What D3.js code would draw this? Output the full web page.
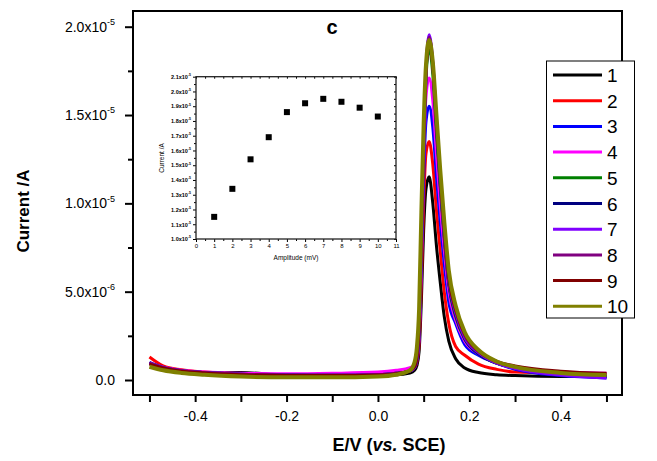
<!DOCTYPE html>
<html>
<head>
<meta charset="utf-8">
<script src="https://cdn.jsdelivr.net/npm/d3@7"></script>
<style>
body { margin: 0; background: #fff; }
svg { font-family: "Liberation Sans", Arial, sans-serif; }
</style>
</head>
<body>
<svg id="chart" width="657" height="461"></svg>
<script>
// potential (V vs SCE), shared by all ten scans
const potential = [-0.5, -0.47, -0.43, -0.38, -0.3, -0.2, -0.1, 0.0, 0.04, 0.07,
    0.08, 0.085, 0.09, 0.095, 0.1, 0.105, 0.112, 0.12, 0.128, 0.136, 0.145, 0.155,
    0.17, 0.19, 0.22, 0.26, 0.3, 0.4, 0.5];

// currents in 1e-6 A
const curve1 = [0.95, 0.7, 0.5, 0.4, 0.42, 0.3, 0.3, 0.3, 0.3, 0.4,
    0.55, 0.8, 1.6, 4.5, 8.5, 10.8, 11.5, 10.0, 7.6, 5.6, 3.6, 2.2,
    1.2, 0.68, 0.42, 0.3, 0.25, 0.2, 0.2];
const curve2 = [1.3, 0.8, 0.58, 0.45, 0.34, 0.3, 0.3, 0.32, 0.4, 0.5,
    0.7, 1.0, 2.0, 5.5, 10.0, 12.8, 13.5, 12.2, 9.6, 7.4, 5.0, 3.2,
    1.9, 1.4, 0.9, 0.6, 0.45, 0.38, 0.35];
const curve3 = [1.0, 0.72, 0.52, 0.42, 0.33, 0.28, 0.27, 0.3, 0.38, 0.5,
    0.7, 1.1, 2.4, 6.5, 11.5, 14.6, 15.5, 14.3, 11.5, 9.0, 6.6, 4.4,
    3.2, 2.0, 1.4, 0.95, 0.6, 0.25, 0.12];
const curve4 = [0.95, 0.72, 0.55, 0.45, 0.38, 0.35, 0.38, 0.45, 0.55, 0.7,
    0.8, 1.2, 2.6, 7.0, 12.5, 16.0, 17.1, 15.8, 12.8, 10.0, 7.4, 5.0,
    3.4, 2.2, 1.5, 1.0, 0.7, 0.45, 0.38];
const curve5 = [0.95, 0.7, 0.52, 0.42, 0.33, 0.28, 0.27, 0.3, 0.38, 0.5,
    0.7, 1.2, 2.8, 7.5, 13.0, 17.0, 18.8, 17.3, 14.0, 11.0, 8.0, 5.4,
    3.6, 2.3, 1.5, 0.95, 0.68, 0.35, 0.2];
const curve6 = [0.95, 0.7, 0.52, 0.42, 0.33, 0.28, 0.27, 0.3, 0.38, 0.5,
    0.7, 1.2, 2.8, 7.5, 13.0, 17.2, 19.3, 17.8, 14.4, 11.2, 8.2, 5.5,
    3.7, 2.35, 1.5, 0.95, 0.65, 0.3, 0.15];
const curve7 = [0.95, 0.7, 0.52, 0.42, 0.33, 0.28, 0.27, 0.3, 0.38, 0.5,
    0.7, 1.2, 2.8, 7.5, 13.0, 17.3, 19.55, 18.0, 14.6, 11.4, 8.3, 5.6,
    3.8, 2.4, 1.55, 0.95, 0.65, 0.28, 0.12];
const curve8 = [0.95, 0.7, 0.52, 0.42, 0.33, 0.28, 0.27, 0.3, 0.38, 0.52,
    0.75, 1.3, 3.0, 8.0, 13.5, 17.4, 19.4, 17.9, 14.6, 11.5, 8.4, 5.7,
    3.9, 2.5, 1.6, 1.0, 0.75, 0.45, 0.36];
const curve9 = [0.9, 0.68, 0.5, 0.4, 0.3, 0.25, 0.25, 0.28, 0.36, 0.52,
    0.75, 1.3, 3.0, 8.2, 13.8, 17.4, 19.1, 17.8, 14.6, 11.6, 8.5, 5.8,
    4.0, 2.6, 1.65, 1.05, 0.8, 0.5, 0.38];
const curve10 = [0.75, 0.55, 0.4, 0.3, 0.2, 0.15, 0.15, 0.2, 0.3, 0.55,
    1.0, 1.8, 4.0, 9.5, 14.5, 17.8, 19.25, 18.0, 15.0, 12.0, 9.0, 6.2,
    4.2, 2.7, 1.7, 1.05, 0.74, 0.4, 0.28];

const seriesNames = ["1", "2", "3", "4", "5", "6", "7", "8", "9", "10"];
const seriesColors = ["#000000", "#ff0000", "#0000ff", "#ff00ff", "#008000",
    "#000080", "#8000ff", "#800080", "#800000", "#808000"];
const seriesData = [curve1, curve2, curve3, curve4, curve5, curve6, curve7, curve8, curve9, curve10];

// inset: peak current vs amplitude
const amplitude = [1, 2, 3, 4, 5, 6, 7, 8, 9, 10];
const peakCurrent = [1.15, 1.34, 1.54, 1.69, 1.86, 1.92, 1.95, 1.93, 1.89, 1.83]; // x1e-5 A

// tick labels
const xMajor = [-0.4, -0.2, 0.0, 0.2, 0.4];
const xMinor = [-0.5, -0.3, -0.1, 0.1, 0.3, 0.5];
const yMajor = [0, 5e-6, 1e-5, 1.5e-5, 2e-5];
const yMant = ["0.0", "5.0x10", "1.0x10", "1.5x10", "2.0x10"];
const yExp = ["", "-6", "-5", "-5", "-5"];
const yMinor = [2.5e-6, 7.5e-6, 1.25e-5, 1.75e-5];

const W = 657, H = 461;
const margin = {top: 11, right: 35, bottom: 66, left: 133};
const svg = d3.select("#chart");

let x = d3.scaleLinear().domain([-0.536, 0.534]).range([margin.left, W - margin.right]);
let y = d3.scaleLinear().domain([-0.849e-6, 20.889e-6]).range([H - margin.bottom, margin.top]);

function styleAxis(g, w) {
    g.select(".domain").remove();
    g.selectAll(".tick line").attr("stroke", "#000").attr("stroke-width", w);
}

// bottom axis
svg.append("g")
    .attr("transform", "translate(0," + (H - margin.bottom) + ")")
    .call(d3.axisBottom(x).tickValues(xMajor).tickSize(7).tickPadding(9)
        .tickFormat(d => d.toFixed(1)))
    .call(g => styleAxis(g, 2))
    .selectAll("text").attr("font-size", 14).attr("fill", "#000")
    .attr("font-family", "Liberation Sans, Arial, sans-serif");
svg.append("g")
    .attr("transform", "translate(0," + (H - margin.bottom) + ")")
    .call(d3.axisBottom(x).tickValues(xMinor).tickSize(7).tickFormat(""))
    .call(g => styleAxis(g, 2));

// left axis
let yAx = svg.append("g")
    .attr("transform", "translate(" + margin.left + ",0)")
    .call(d3.axisLeft(y).tickValues(yMajor).tickSize(8).tickPadding(10).tickFormat(""))
    .call(g => styleAxis(g, 2));
yAx.selectAll(".tick text").each(function (d, i) {
    const t = d3.select(this)
        .attr("font-size", 14).attr("fill", "#000")
        .attr("font-family", "Liberation Sans, Arial, sans-serif");
    t.append("tspan").text(yMant[i]);
    if (yExp[i]) t.append("tspan").attr("font-size", 9).attr("dy", "-0.75em").text(yExp[i]);
});
svg.append("g")
    .attr("transform", "translate(" + margin.left + ",0)")
    .call(d3.axisLeft(y).tickValues(yMinor).tickSize(5).tickFormat(""))
    .call(g => styleAxis(g, 2));

// frame
svg.append("rect")
    .attr("x", margin.left).attr("y", margin.top)
    .attr("width", W - margin.left - margin.right)
    .attr("height", H - margin.top - margin.bottom)
    .attr("fill", "none").attr("stroke", "#000").attr("stroke-width", 2);

// curves
const line = d3.line()
    .x((d, i) => x(potential[i]))
    .y(d => y(d * 1e-6))
    .curve(d3.curveMonotoneX);

svg.append("g").selectAll("path")
    .data(seriesData)
    .join("path")
    .attr("fill", "none")
    .attr("stroke", (d, i) => seriesColors[i])
    .attr("stroke-width", (d, i) => i === 9 ? 4 : 3)
    .attr("stroke-linejoin", "round")
    .attr("d", line);

// panel letter
svg.append("text")
    .attr("x", 332).attr("y", 34)
    .attr("text-anchor", "middle")
    .attr("font-size", 20).attr("font-weight", "bold")
    .text("c");

// axis titles
svg.append("text")
    .attr("transform", "translate(29,211) rotate(-90)")
    .attr("text-anchor", "middle")
    .attr("font-size", 17).attr("font-weight", "bold")
    .text("Current /A");

let xt = svg.append("text")
    .attr("x", 389).attr("y", 451)
    .attr("text-anchor", "middle")
    .attr("font-size", 18).attr("font-weight", "bold");
xt.append("tspan").text("E/V (");
xt.append("tspan").attr("font-style", "italic").text("vs.");
xt.append("tspan").text(" SCE)");

// legend
const leg = svg.append("g");
leg.append("rect")
    .attr("x", 546.5).attr("y", 61).attr("width", 88).attr("height", 257)
    .attr("fill", "#fff").attr("stroke", "#000").attr("stroke-width", 1);
const legItem = leg.selectAll("g.item")
    .data(seriesNames)
    .join("g")
    .attr("class", "item")
    .attr("transform", (d, i) => "translate(0," + (75 + i * 25.7) + ")");
legItem.append("line")
    .attr("x1", 553).attr("x2", 602).attr("y1", 0).attr("y2", 0)
    .attr("stroke", (d, i) => seriesColors[i]).attr("stroke-width", 3);
legItem.append("text")
    .attr("x", 607).attr("y", 7)
    .attr("font-size", 19)
    .text(d => d);

// inset
const ix = d3.scaleLinear().domain([0, 11]).range([196, 396]);
const iy = d3.scaleLinear().domain([1.0e-5, 2.1e-5]).range([239, 76.7]);
const inset = svg.append("g");
const insetGrey = "#222";

inset.append("g")
    .attr("transform", "translate(0,239)")
    .call(d3.axisBottom(ix).tickValues(d3.range(0, 12)).tickSize(3).tickPadding(2)
        .tickFormat(d => d))
    .call(g => styleAxis(g, 1))
    .selectAll("text").attr("font-size", 6).attr("fill", "#000")
    .attr("font-family", "Liberation Sans, Arial, sans-serif");
inset.append("g")
    .attr("transform", "translate(0,239)")
    .call(d3.axisBottom(ix).tickValues(d3.range(0.5, 11, 1)).tickSize(2).tickFormat(""))
    .call(g => styleAxis(g, 1));
inset.append("g")
    .attr("transform", "translate(0,76.7)")
    .call(d3.axisBottom(ix).tickValues(d3.range(0, 11.5, 0.5)).tickSize(2).tickFormat(""))
    .call(g => styleAxis(g, 1));

const iyTicks = d3.range(10, 22).map(v => v / 10 * 1e-5);
let iyAx = inset.append("g")
    .attr("transform", "translate(196,0)")
    .call(d3.axisLeft(iy).tickValues(iyTicks).tickSize(3).tickPadding(2).tickFormat(""))
    .call(g => styleAxis(g, 1));
iyAx.selectAll(".tick text").each(function (d) {
    const t = d3.select(this)
        .attr("font-size", 5.5).attr("font-weight", "bold").attr("fill", "#000")
        .attr("font-family", "Liberation Sans, Arial, sans-serif");
    t.append("tspan").text((d * 1e5).toFixed(1) + "x10");
    t.append("tspan").attr("font-size", 3.5).attr("dy", "-0.8em").text("-5");
});
inset.append("g")
    .attr("transform", "translate(196,0)")
    .call(d3.axisLeft(iy).tickValues(d3.range(10.5, 21, 1).map(v => v / 10 * 1e-5)).tickSize(2).tickFormat(""))
    .call(g => styleAxis(g, 1));
inset.append("g")
    .attr("transform", "translate(396,0)")
    .call(d3.axisLeft(iy).tickValues(d3.range(10, 21.5, 0.5).map(v => v / 10 * 1e-5)).tickSize(2).tickFormat(""))
    .call(g => styleAxis(g, 1));

inset.append("rect")
    .attr("x", 196).attr("y", 76.7).attr("width", 200).attr("height", 239 - 76.7)
    .attr("fill", "none").attr("stroke", insetGrey).attr("stroke-width", 1.3);

inset.append("g").selectAll("rect")
    .data(amplitude)
    .join("rect")
    .attr("x", (d) => ix(d) - 3)
    .attr("y", (d, i) => iy(peakCurrent[i] * 1e-5) - 3)
    .attr("width", 6).attr("height", 6)
    .attr("fill", "#000");

inset.append("text")
    .attr("x", 296).attr("y", 260)
    .attr("text-anchor", "middle").attr("font-size", 6.5)
    .text("Amplitude (mV)");
inset.append("text")
    .attr("transform", "translate(164,158) rotate(-90)")
    .attr("text-anchor", "middle").attr("font-size", 6.5)
    .text("Current /A");
</script>
</body>
</html>
